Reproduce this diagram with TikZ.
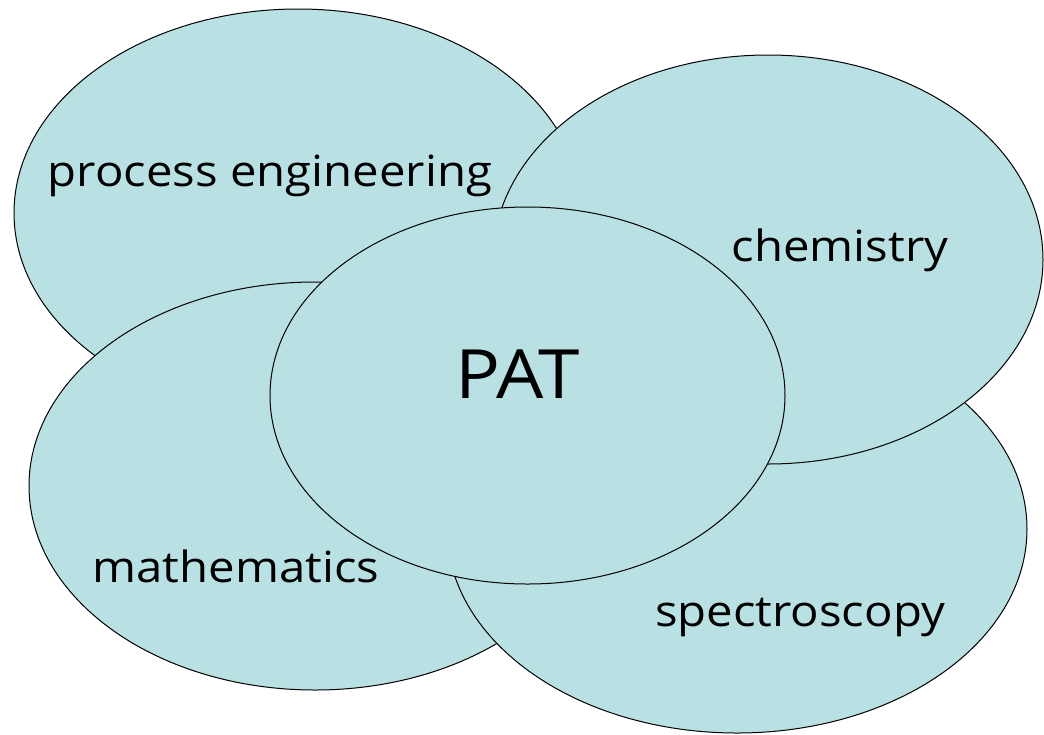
\documentclass[tikz,border=0pt]{standalone}
\usepackage{fontspec}
\setmainfont[FakeStretch=1.1]{Open Sans}
\usetikzlibrary{shapes.geometric}
\definecolor{blobfill}{RGB}{185,224,227}
\tikzset{
  blob/.style={ellipse, draw=black, fill=blobfill, line width=1pt, inner sep=0pt},
  lbl/.style={anchor=base, inner sep=0pt, font=\fontsize{43}{45}\selectfont},
  biglbl/.style={anchor=base, inner sep=0pt, font=\fontsize{68}{70}\selectfont}
}
\begin{document}
\begin{tikzpicture}[x=1pt,y=-1pt]
\useasboundingbox (0,0) rectangle (1044,734);
\node[blob, minimum width=568pt, minimum height=408pt] (pe) at (298,213) {};
\node[blob, minimum width=572pt, minimum height=408pt] (ma) at (315,486) {};
\node[blob, minimum width=580pt, minimum height=408pt] (sp) at (737,529) {};
\node[blob, minimum width=550pt, minimum height=409pt] (ch) at (768,259.5) {};
\node[blob, minimum width=515pt, minimum height=377pt] (pat) at (527.5,395.5) {};
\node[lbl] (tpe) at (270,186) {process engineering};
\node[lbl] (tch) at (840,261) {chemistry};
\node[lbl] (tma) at (236,582) {mathematics};
\node[lbl] (tsp) at (800,626) {spectroscopy};
\node[biglbl] (tpat) at (517.5,398) {PAT};
\end{tikzpicture}
\end{document}
